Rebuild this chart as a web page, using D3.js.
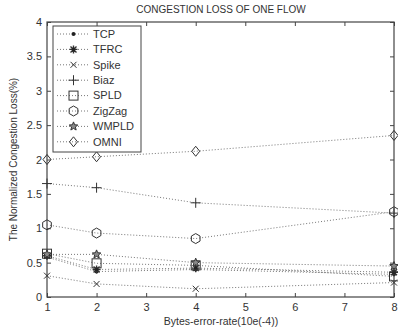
<!DOCTYPE html>
<html><head><meta charset="utf-8">
<script src="https://cdn.jsdelivr.net/npm/d3@7"></script>
<style>body{margin:0;background:#fff}svg{display:block;font-family:"Liberation Sans",Arial,sans-serif}</style>
</head><body><svg id="c" width="398" height="332"></svg>
<script>
const xValues = [1, 2, 4, 8];
const seriesNames = ["TCP","TFRC","Spike","Biaz","SPLD","ZigZag","WMPLD","OMNI"];
const TCP    = [0.58, 0.37, 0.40, 0.33];
const TFRC   = [0.60, 0.40, 0.42, 0.36];
const Spike  = [0.31, 0.19, 0.12, 0.21];
const Biaz   = [1.65, 1.59, 1.37, 1.22];
const SPLD   = [0.63, 0.49, 0.46, 0.30];
const ZigZag = [1.05, 0.93, 0.85, 1.24];
const WMPLD  = [0.62, 0.62, 0.50, 0.45];
const OMNI   = [2.00, 2.04, 2.12, 2.35];
const xTicks = [1,2,3,4,5,6,7,8];
const yTicks = [0,0.5,1,1.5,2,2.5,3,3.5,4];
const markers = ["dot","star","cross","plus","square","hexagon","pentagram","diamond"];
const seriesValues = [TCP,TFRC,Spike,Biaz,SPLD,ZigZag,WMPLD,OMNI];

const svg = d3.select("#c");
const L=47, R=394, T=22, B=297;
const x = d3.scaleLinear().domain([1,8]).range([L,R]);
const y = d3.scaleLinear().domain([0,4]).range([B,T]);
const ink = "#444", lineCol = "#777";

svg.append("rect").attr("x",L).attr("y",T).attr("width",R-L).attr("height",B-T)
  .attr("fill","none").attr("stroke",ink).attr("stroke-width",1.2);

const fmt = d => String(d);
const gx = svg.append("g").attr("transform",`translate(0,${B})`)
  .call(d3.axisBottom(x).tickValues(xTicks).tickSize(-4).tickPadding(6).tickFormat(fmt));
const gxt = svg.append("g").attr("transform",`translate(0,${T})`)
  .call(d3.axisTop(x).tickValues(xTicks).tickSize(-4).tickFormat(""));
const gy = svg.append("g").attr("transform",`translate(${L},0)`)
  .call(d3.axisLeft(y).tickValues(yTicks).tickSize(-4).tickPadding(5).tickFormat(fmt));
const gyr = svg.append("g").attr("transform",`translate(${R},0)`)
  .call(d3.axisRight(y).tickValues(yTicks).tickSize(-4).tickFormat(""));
[gx,gxt,gy,gyr].forEach(g=>{
  g.select(".domain").remove();
  g.selectAll("line").attr("stroke",ink);
  g.selectAll("text").attr("fill","#333").style("font-size","11px").style("font-family","'Liberation Sans',Arial,sans-serif");
});

function drawMarker(g, type, cx, cy){
  const s = g.append("g").attr("transform",`translate(${cx},${cy})`);
  const st = {stroke:"#333", "stroke-width":1, fill:"none"};
  const apply = el => { for (const k in st) el.attr(k, st[k]); return el; };
  if(type==="dot"){ s.append("circle").attr("r",2).attr("fill","#222"); }
  else if(type==="star"){
    apply(s.append("path").attr("d","M-4,0H4M0,-4V4M-3,-3L3,3M-3,3L3,-3")).attr("stroke-width",1.4);
    s.append("circle").attr("r",1.8).attr("fill","#222");
  }
  else if(type==="cross"){ apply(s.append("path").attr("d","M-3,-3L3,3M-3,3L3,-3")); }
  else if(type==="plus"){ apply(s.append("path").attr("d","M-5,0H5M0,-5V5")); }
  else if(type==="square"){ apply(s.append("rect").attr("x",-4.5).attr("y",-4.5).attr("width",9).attr("height",9)); }
  else if(type==="hexagon"){
    const pts = d3.range(6).map(i=>[5*Math.cos(Math.PI/3*i+Math.PI/6),5*Math.sin(Math.PI/3*i+Math.PI/6)]);
    apply(s.append("path").attr("d","M"+pts.join("L")+"Z"));
  }
  else if(type==="pentagram"){
    const pts = d3.range(10).map(i=>{const r=i%2?2:4.5;const a=-Math.PI/2+Math.PI/5*i;return [r*Math.cos(a),r*Math.sin(a)];});
    apply(s.append("path").attr("d","M"+pts.join("L")+"Z")).attr("fill","#888");
  }
  else if(type==="diamond"){ apply(s.append("path").attr("d","M0,-5L4,0L0,5L-4,0Z")); }
}

const line = d3.line().x((d,i)=>x(xValues[i])).y(d=>y(d));
const plot = svg.append("g");
seriesValues.forEach((vals,k)=>{
  plot.append("path").attr("d",line(vals)).attr("fill","none")
    .attr("stroke",lineCol).attr("stroke-width",1).attr("stroke-dasharray","1,2");
  vals.forEach((v,i)=>drawMarker(plot, markers[k], x(xValues[i]), y(v)));
});

// legend
const lg = svg.append("g");
lg.append("rect").attr("x",53).attr("y",26).attr("width",88).attr("height",126)
  .attr("fill","#fff").attr("stroke",ink).attr("stroke-width",1);
seriesNames.forEach((n,k)=>{
  const yy = 34 + k*15.4;
  lg.append("line").attr("x1",57).attr("x2",90).attr("y1",yy).attr("y2",yy)
    .attr("stroke",lineCol).attr("stroke-dasharray","1,2");
  drawMarker(lg, markers[k], 73.5, yy);
  lg.append("text").attr("x",93).attr("y",yy).attr("dy","0.35em").attr("fill","#333")
    .style("font-size","11px").text(n);
});

svg.append("text").attr("x",221).attr("y",13).attr("text-anchor","middle").attr("fill","#333")
  .style("font-size","10px").text("CONGESTION LOSS OF ONE FLOW");
svg.append("text").attr("x",221).attr("y",325).attr("text-anchor","middle").attr("fill","#333")
  .style("font-size","10.5px").text("Bytes-error-rate(10e(-4))");
svg.append("text").attr("transform",`translate(17,${(T+B)/2}) rotate(-90)`).attr("text-anchor","middle")
  .attr("fill","#333").style("font-size","10px").text("The Normalized Congestion Loss(%)");
</script></body></html>
